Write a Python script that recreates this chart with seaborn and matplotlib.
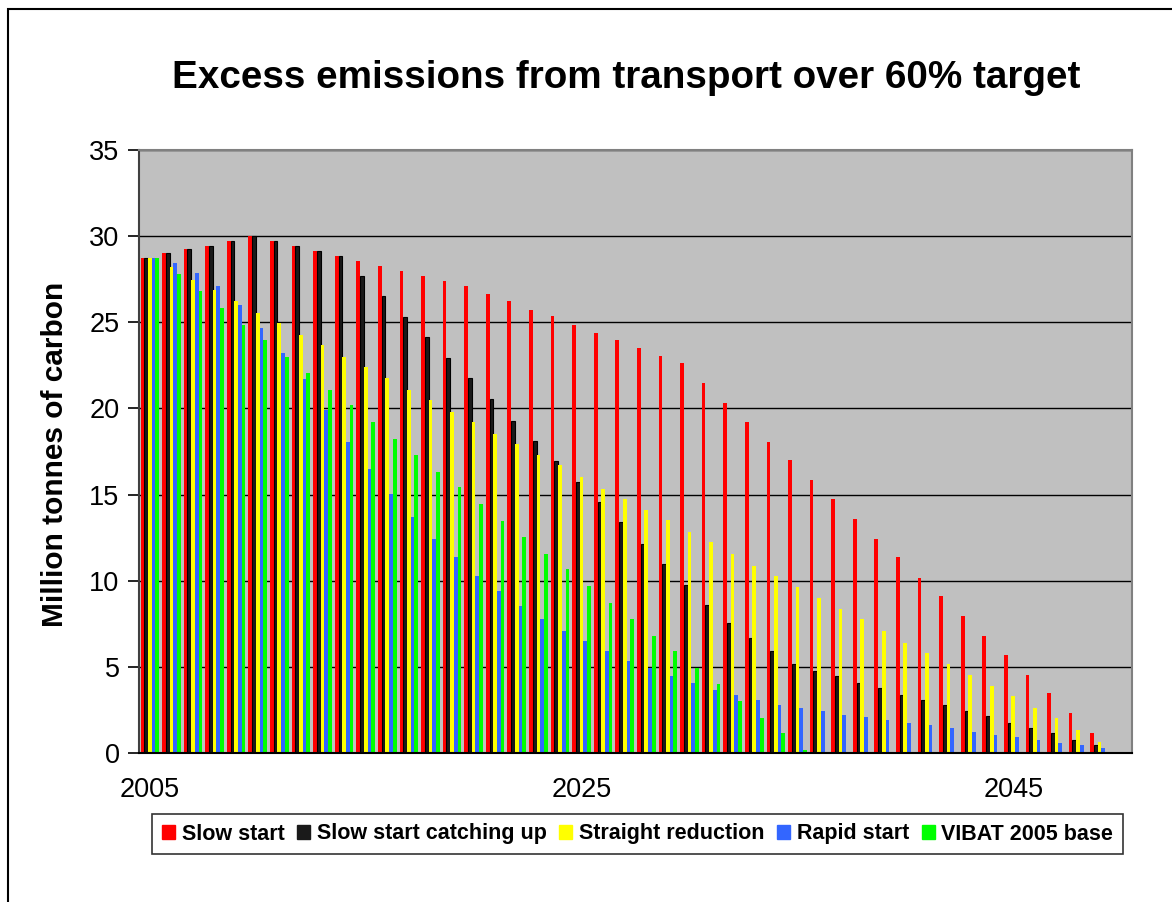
import numpy as np
import pandas as pd
import matplotlib
matplotlib.use("Agg")
import matplotlib.pyplot as plt
from matplotlib.patches import Patch, Rectangle
import seaborn as sns

years = list(range(2005, 2051))

slow_start = [28.75, 29.05, 29.24, 29.43, 29.74, 30.03, 29.74, 29.43, 29.14, 28.85,
              28.56, 28.27, 27.98, 27.69, 27.40, 27.09, 26.63, 26.23, 25.74, 25.34,
              24.86, 24.37, 23.99, 23.48, 23.02, 22.63, 21.48, 20.30, 19.24, 18.06,
              17.00, 15.82, 14.76, 13.60, 12.44, 11.36, 10.18, 9.12, 7.94, 6.78,
              5.70, 4.54, 3.46, 2.30, 1.14, 0.0]

slow_catch_up = [28.75, 29.05, 29.24, 29.43, 29.74, 30.03, 29.74, 29.43, 29.14, 28.85,
                 27.68, 26.52, 25.32, 24.16, 22.90, 21.74, 20.57, 19.29, 18.13, 16.96,
                 15.72, 14.54, 13.40, 12.13, 10.95, 9.77, 8.61, 7.55, 6.68, 5.91,
                 5.14, 4.75, 4.46, 4.06, 3.77, 3.38, 3.09, 2.80, 2.42, 2.13,
                 1.72, 1.43, 1.14, 0.75, 0.46, 0.0]

straight_reduction = [28.75, 28.18, 27.48, 26.90, 26.23, 25.55, 24.95, 24.28, 23.70, 23.00,
                      22.42, 21.74, 21.07, 20.49, 19.80, 19.22, 18.54, 17.96, 17.27, 16.69,
                      16.01, 15.34, 14.76, 14.08, 13.50, 12.80, 12.22, 11.55, 10.87, 10.27,
                      9.62, 9.02, 8.34, 7.76, 7.07, 6.39, 5.79, 5.14, 4.54, 3.86,
                      3.28, 2.61, 2.03, 1.33, 0.66, 0.0]

rapid_start = [28.75, 28.47, 27.87, 27.09, 26.03, 24.66, 23.23, 21.69, 19.91, 18.08,
               16.49, 15.05, 13.69, 12.44, 11.38, 10.27, 9.40, 8.53, 7.76, 7.07,
               6.49, 5.91, 5.33, 4.94, 4.46, 4.06, 3.67, 3.38, 3.09, 2.80,
               2.61, 2.42, 2.20, 2.10, 1.93, 1.74, 1.64, 1.43, 1.24, 1.04,
               0.95, 0.75, 0.56, 0.46, 0.27, 0.0]

vibat_base = [28.75, 27.79, 26.83, 25.82, 24.87, 23.99, 23.00, 22.06, 21.09, 20.20,
              19.23, 18.25, 17.27, 16.30, 15.43, 14.47, 13.48, 12.51, 11.57, 10.66,
              9.69, 8.73, 7.76, 6.78, 5.91, 4.94, 3.98, 3.00, 2.03, 1.16,
              0.17, 0.0, 0.0, 0.0, 0.0, 0.0, 0.0, 0.0, 0.0, 0.0,
              0.0, 0.0, 0.0, 0.0, 0.0, 0.0]

series_names = ["Slow start", "Slow start catching up", "Straight reduction",
                "Rapid start", "VIBAT 2005 base"]
series_colors = ["#FF0000", "#1A1A1A", "#FFFF00", "#3366FF", "#00FF00"]
tick_years = ["2005", "2025", "2045"]

wide = pd.DataFrame({
    "year": [str(y) for y in years],
    series_names[0]: slow_start,
    series_names[1]: slow_catch_up,
    series_names[2]: straight_reduction,
    series_names[3]: rapid_start,
    series_names[4]: vibat_base,
})
df = wide.melt(id_vars="year", var_name="scenario", value_name="carbon")

sns.set_theme(style="white")
plt.rcParams["font.family"] = ["Liberation Sans", "DejaVu Sans"]
plt.rcParams["text.color"] = "black"
plt.rcParams["axes.labelcolor"] = "black"
plt.rcParams["xtick.color"] = "black"
plt.rcParams["ytick.color"] = "black"

fig = plt.figure(figsize=(11.72, 9.02), dpi=100)
ax = fig.add_axes([139 / 1172, 1 - 753 / 902, (1132 - 139) / 1172, (753 - 150) / 902])
ax.set_facecolor("#C0C0C0")

sns.barplot(data=df, x="year", y="carbon", hue="scenario", hue_order=series_names,
            palette=dict(zip(series_names, series_colors)), width=0.86, gap=0,
            saturation=1, linewidth=0, ax=ax, legend=False, errorbar=None)

# black outline on the dark series
for patch in ax.containers[1]:
    patch.set_edgecolor("black")
    patch.set_linewidth(0.8)

ax.set_xlim(-0.5, len(years) - 0.5)
ax.set_ylim(0, 35)
ax.set_yticks(np.arange(0, 36, 5))
ax.yaxis.grid(True, color="black", linewidth=1.0)
ax.set_axisbelow(True)

ax.set_xticks([years.index(int(t)) for t in tick_years])
ax.set_xticklabels(tick_years)
ax.set_xticks(np.arange(-0.5, len(years), 1), minor=True)
ax.tick_params(axis="x", which="major", length=0, pad=17, labelsize=19.5, labelcolor="black")
ax.tick_params(axis="x", which="minor", length=8, width=1.2, color="black", direction="out")
ax.tick_params(axis="y", which="major", length=8, width=1.2, color="black",
               direction="out", labelsize=19.5, pad=6, left=True, labelcolor="black")
ax.set_xlabel("")
ax.set_ylabel("")

for side in ("top", "right"):
    ax.spines[side].set_color("#808080")
    ax.spines[side].set_linewidth(1.5)
ax.spines["left"].set_color("#404040")
ax.spines["left"].set_linewidth(1.5)
ax.spines["bottom"].set_color("black")
ax.spines["bottom"].set_linewidth(1.5)

fig.text(626 / 1172, 1 - 78 / 902, "Excess emissions from transport over 60% target",
         ha="center", va="center", fontsize=27.8, fontweight="bold", color="black")
fig.text(55 / 1172, 1 - 454 / 902, "Million tonnes of carbon", rotation=90,
         ha="center", va="center", fontsize=21.5, fontweight="bold", color="black")

handles = [Patch(facecolor=c, edgecolor=c) for c in series_colors]
leg = fig.legend(handles, series_names, loc="center", bbox_to_anchor=(0.544, 1 - 834 / 902),
                 ncol=5, frameon=True, fancybox=False, shadow=False,
                 prop={"weight": "bold", "size": 15.5}, handlelength=0.6, handleheight=0.6,
                 handletextpad=0.3, columnspacing=0.6, borderpad=0.45)
leg.get_frame().set_edgecolor("black")
leg.get_frame().set_linewidth(1.2)
for t in leg.get_texts():
    t.set_color("black")

# outer chart frame
fig.patches.append(Rectangle((8 / 1172, -0.1), 1.2, 1 - 9 / 902 + 0.1,
                             transform=fig.transFigure, fill=False,
                             edgecolor="black", linewidth=1.5))

fig.savefig("out.png", dpi=100, facecolor="white")
